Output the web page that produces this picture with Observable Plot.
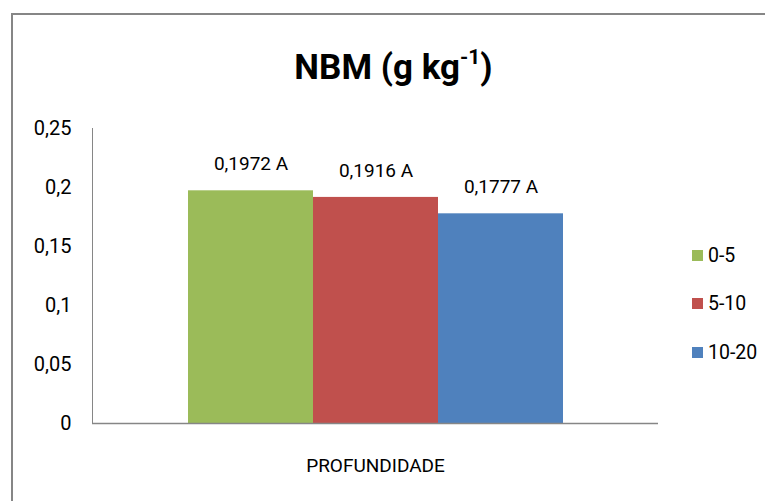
<!DOCTYPE html>
<html>
<head>
<meta charset="utf-8">
<script src="https://cdn.jsdelivr.net/npm/d3@7"></script>
<script src="https://cdn.jsdelivr.net/npm/@observablehq/plot@0.6"></script>
<style>
  html, body { margin: 0; padding: 0; background: #fff; }
  #wrap { position: relative; width: 765px; height: 501px; overflow: hidden;
          font-family: Roboto, "Noto Sans", sans-serif; color: #000; }
  #frame { position: absolute; left: 11px; top: 13px; width: 800px; height: 520px;
           border: 2px solid #868686; box-sizing: border-box; }
  #chart { position: absolute; left: 0; top: 0; }
  #title { position: absolute; left: 0; width: 787px; top: 50px; text-align: center;
           font-weight: bold; font-size: 35px; line-height: 1; }
  #title sup { font-size: 0.6em; position: relative; top: -0.7em; vertical-align: baseline; }
  #legend { position: absolute; left: 692px; top: 0; font-size: 19.5px; }
  .item { position: absolute; left: 0; white-space: nowrap; display: flex; align-items: center; height: 24px; }
  .sw { width: 11px; height: 11px; margin-right: 5px; display: inline-block; }
</style>
</head>
<body>
<div id="wrap">
  <div id="frame"></div>
  <div id="chart"></div>
  <div id="title">NBM (g kg<sup>-1</sup>)</div>
  <div id="legend"></div>
</div>
<script>
// Soil depth layers (cm) and mean NBM values with their test letters
const group = "PROFUNDIDADE";
const depths = ["0-5", "5-10", "10-20"];
const values = [0.1972, 0.1916, 0.1777];
const letters = ["A", "A", "A"];
const colors = ["#9BBB59", "#C0504D", "#4F81BD"];
const yTicks = [0, 0.05, 0.1, 0.15, 0.2, 0.25];

const data = depths.map((d, i) => ({group, depth: d, value: values[i], letter: letters[i]}));
const comma = v => String(v).replace(".", ",");
const axisGray = "#868686";

const chart = Plot.plot({
  width: 765,
  height: 501,
  marginLeft: 92,
  marginRight: 107,
  marginTop: 128,
  marginBottom: 78,
  style: {fontFamily: "Roboto, 'Noto Sans', sans-serif", color: "#000", background: "transparent"},
  fx: {domain: [group], padding: 0, label: null},
  x: {domain: depths, paddingInner: 0, paddingOuter: 0.752, axis: null},
  y: {domain: [0, 0.25]},
  color: {domain: depths, range: colors},
  marks: [
    Plot.frame({anchor: "left", stroke: axisGray, strokeWidth: 1}),
    Plot.barY(data, {fx: "group", x: "depth", y: "value", fill: "depth"}),
    Plot.ruleY([0], {stroke: axisGray, strokeWidth: 1.5}),
    Plot.text(data, {fx: "group", x: "depth", y: "value",
      text: d => comma(d.value) + " " + d.letter, dy: -27, fontSize: 19, fill: "#000"}),
    Plot.axisY({ticks: yTicks, tickFormat: comma, tickSize: 0, tickPadding: 21,
      fontSize: 20, label: null}),
    Plot.axisFx({anchor: "bottom", tickSize: 0, tickPadding: 35, fontSize: 19, label: null})
  ]
});
document.getElementById("chart").appendChild(chart);

// Legend entries, stacked on the right
const legend = document.getElementById("legend");
const rowTops = [243, 291, 340];
depths.forEach((d, i) => {
  const row = document.createElement("div");
  row.className = "item";
  row.style.top = rowTops[i] + "px";
  row.innerHTML = `<span class="sw" style="background:${colors[i]}"></span><span>${d}</span>`;
  legend.appendChild(row);
});
</script>
</body>
</html>
